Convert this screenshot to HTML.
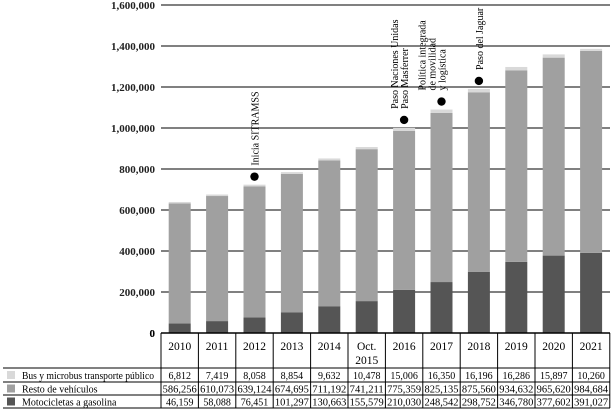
<!DOCTYPE html>
<html><head><meta charset="utf-8"><style>
body{margin:0;background:#fff;}
svg{display:block;font-family:"Liberation Serif",serif;}
</style></head><body>
<svg id="c" width="614" height="412" viewBox="0 0 614 412"></svg>
<script>
const years=["2010","2011","2012","2013","2014","Oct.|2015","2016","2017","2018","2019","2020","2021"];
const bus=[6812,7419,8058,8854,9632,10478,15006,16350,16196,16286,15897,10260];
const resto=[586256,610073,639124,674695,711192,741211,775359,825135,875560,934632,965620,984684];
const moto=[46159,58088,76451,101297,130663,155579,210030,248542,298752,346780,377602,391027];
const ticks=[0,200000,400000,600000,800000,1000000,1200000,1400000,1600000];
const seriesNames=["Bus y microbus transporte público","Resto de vehículos","Motocicletas a gasolina"];
const notes=[{i:2,lines:["Inicia SITRAMSS"]},{i:6,lines:["Paso Naciones Unidas","Paso Masferrer"]},{i:7,lines:["Política integrada","de movilidad","y logística"]},{i:8,lines:["Paso del Jaguar"]}];
const NS="http://www.w3.org/2000/svg",svg=document.getElementById('c');
const x0=161,colW=37.4,y0=333,yTop=5,yMax=1600000;
const y=v=>y0-(v/yMax)*(y0-yTop);
const xc=i=>x0+colW*(i+0.5);
function mk(t,a,txt){const e=document.createElementNS(NS,t);for(const k in a)e.setAttribute(k,a[k]);if(txt!=null)e.textContent=txt;svg.appendChild(e);return e;}
ticks.forEach(t=>{
 const l=mk('line',{x1:x0,x2:610,y1:y(t),y2:y(t),stroke:'#000','stroke-width':1});
 
 const tx=mk('text',{x:155,y:y(t)+4,'text-anchor':'end','font-size':11,'font-weight':'bold',fill:'#222'},t.toLocaleString('en-US'));
 
});
const cols=['#d9d9d9','#a0a0a0','#555555'];
years.forEach((yr,i)=>{
 const bx=xc(i)-11;let base=0;
 [[moto[i],cols[2],'bar-moto'],[resto[i],cols[1],'bar-resto'],[bus[i],cols[0],'bar-bus']].forEach(([v,c,n])=>{
  const r=mk('rect',{x:bx,width:22,y:y(base+v),height:y(base)-y(base+v),fill:c});
  base+=v;
 });
});
notes.forEach(n=>{
 const i=n.i,tot=bus[i]+resto[i]+moto[i];
 const dy=y(tot)-8;
 const d=mk('circle',{cx:xc(i),cy:dy,r:4.2,fill:'#000'});
 
 const bx=xc(i)+4-(n.lines.length-1)*10,by=dy-11;
 const g=mk('text',{transform:`translate(${bx},${by}) rotate(-90)`,'font-size':10,fill:'#000'});
 
 n.lines.forEach((ln,k)=>{const ts=document.createElementNS(NS,'tspan');ts.setAttribute('x',0);ts.setAttribute('dy',k?10:0);ts.textContent=ln;g.appendChild(ts);});
});
// table
const rowsY=[333,368,382,395,408];
mk('line',{x1:x0,x2:610,y1:333,y2:333,stroke:'#000','stroke-width':1.5});
[368,382,395,408].forEach(v=>mk('line',{x1:3,x2:610,y1:v,y2:v,stroke:'#000','stroke-width':1}));
for(let i=0;i<=12;i++)mk('line',{x1:x0+colW*i,x2:x0+colW*i,y1:333,y2:408,stroke:'#000','stroke-width':1});
mk('text',{x:155,y:337,'text-anchor':'end','font-size':11,'font-weight':'bold'},'0');
years.forEach((yr,i)=>{
 const p=yr.split('|');
 p.forEach((s,k)=>{const t=mk('text',{x:xc(i),y:350+k*14,'text-anchor':'middle','font-size':11.5},s);
 });
});
const data=[bus,resto,moto];
data.forEach((arr,r)=>{
 const cy=(rowsY[r+1]+rowsY[r+2])/2+4;
 const sw=mk('rect',{x:7,y:cy-8,width:8,height:8,fill:cols[r]});
 
 const lt=mk('text',{x:22,y:cy,'font-size':10},seriesNames[r]);
 if(r===0){lt.setAttribute('textLength',132);lt.setAttribute('lengthAdjust','spacingAndGlyphs');}
 
 arr.forEach((v,i)=>{const t=mk('text',{x:xc(i),y:cy,'text-anchor':'middle','font-size':10},v.toLocaleString('en-US'));
  if(v>=100000){t.setAttribute('textLength',34);t.setAttribute('lengthAdjust','spacingAndGlyphs');}
  });
});
</script>
</body></html>
